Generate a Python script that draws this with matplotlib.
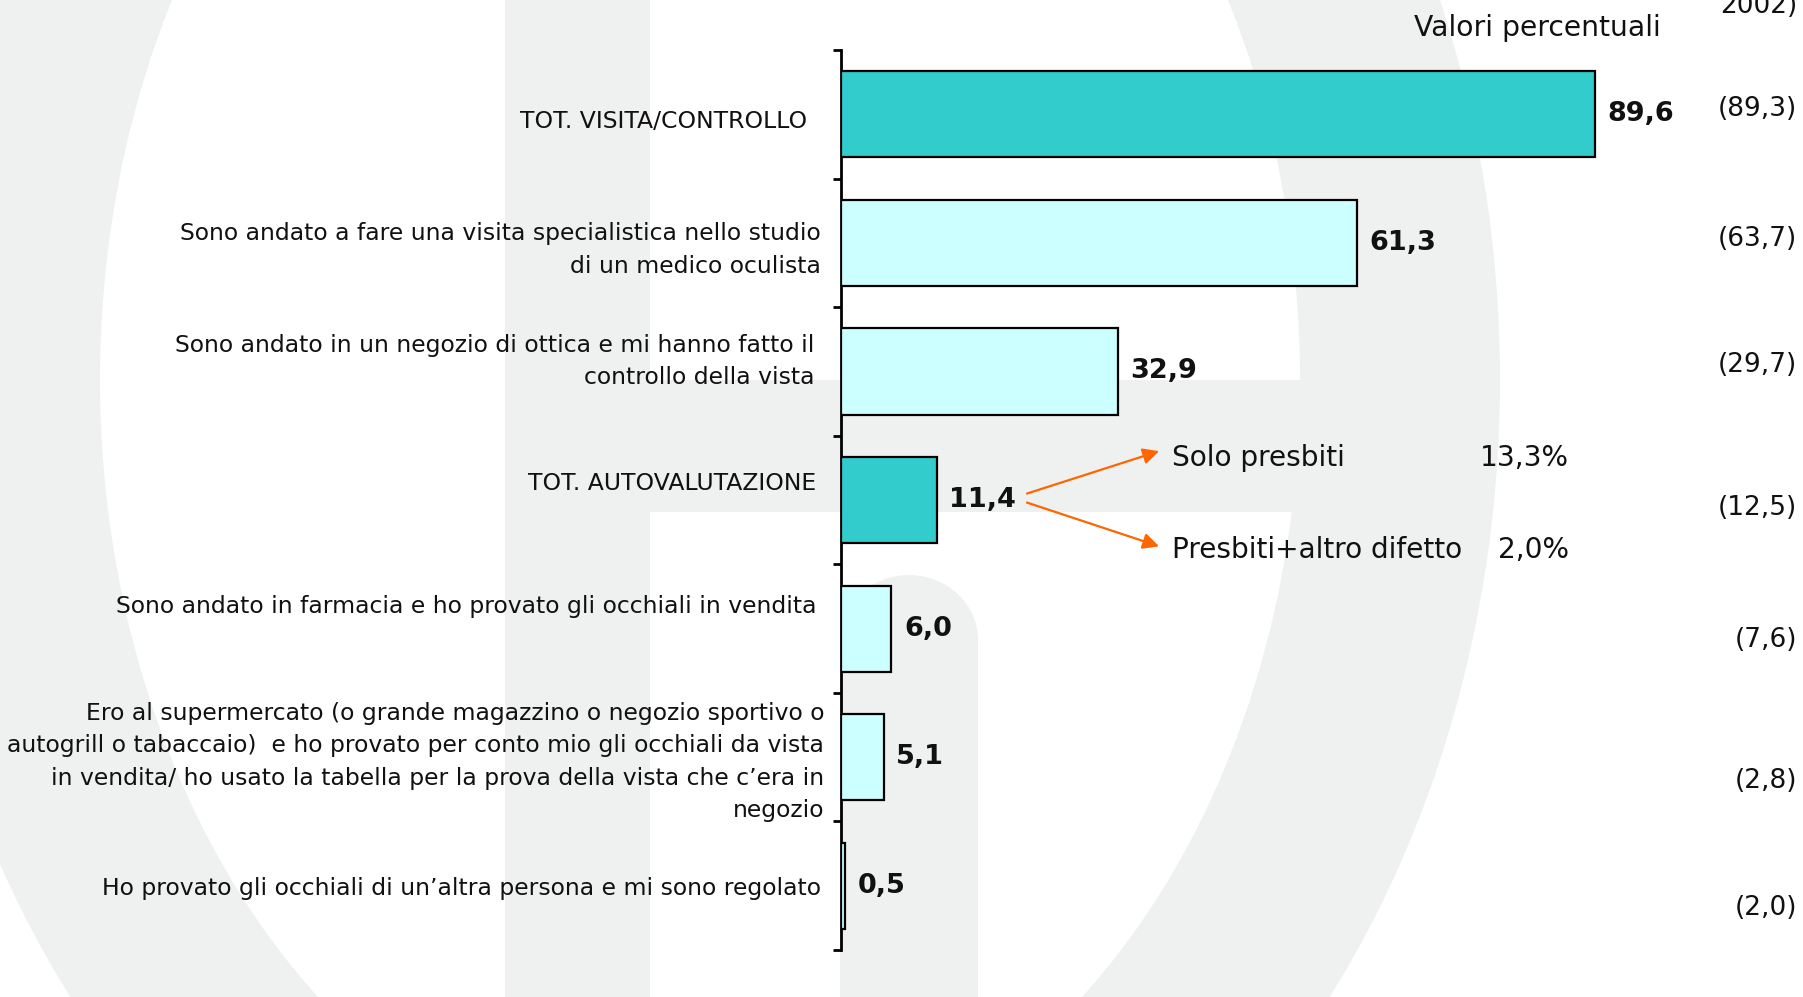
import matplotlib
matplotlib.use('Agg')
import matplotlib.pyplot as plt
from matplotlib.patches import Rectangle, Ellipse
from matplotlib.transforms import blended_transform_factory, offset_copy

# --- DATA ---
categories = [
    'TOT. VISITA/CONTROLLO',
    'Sono andato a fare una visita specialistica nello studio\ndi un medico oculista',
    'Sono andato in un negozio di ottica e mi hanno fatto il\ncontrollo della vista',
    'TOT. AUTOVALUTAZIONE',
    'Sono andato in farmacia e ho provato gli occhiali in vendita',
    'Ero al supermercato (o grande magazzino o negozio sportivo o\n'
    'autogrill o tabaccaio)  e ho provato per conto mio gli occhiali da vista\n'
    'in vendita/ ho usato la tabella per la prova della vista che c’era in\nnegozio',
    'Ho provato gli occhiali di un’altra persona e mi sono regolato',
]
values = [89.6, 61.3, 32.9, 11.4, 6.0, 5.1, 0.5]
values_prev = [89.3, 63.7, 29.7, 12.5, 7.6, 2.8, 2.0]
is_total = [True, False, False, True, False, False, False]
sub_labels = ['Solo presbiti', 'Presbiti+altro difetto']
sub_values = [13.3, 2.0]

# --- STYLE ---
C_TOTAL = '#33CCCC'
C_ITEM = '#CCFFFF'
C_ARROW = '#FF6600'
C_WATERMARK = '#eff0f0'
FONT = 'DejaVu Sans'
TXT = '#111111'

# small nudges (pixels) to mimic the hand placed text boxes of the original slide
LABEL_DY = [7, 7, -10, -17, -22, 5, 3]       # + = down
LABEL_DX = [-14, 0, -7, -5, -5, 3, 0]        # + = right
PREV_DY = [-5, -4, -6, 8, 11, 24, 22]


def fmt(v):
    return f"{v:.1f}".replace('.', ',')


fig = plt.figure(figsize=(18.03, 9.97), dpi=100, facecolor='white')

# --- background watermark (faint logo), in pixel coords ---
bg = fig.add_axes([0, 0, 1, 1], zorder=0)
bg.set_xlim(0, 1803)
bg.set_ylim(997, 0)
bg.axis('off')
bg.add_patch(Ellipse((700, 380), 1600, 2000, color=C_WATERMARK, lw=0))
bg.add_patch(Ellipse((700, 380), 1200, 1600, color='white', lw=0))
bg.add_patch(Rectangle((505, 0), 145, 997, color=C_WATERMARK, lw=0))
bg.add_patch(Rectangle((650, 380), 685, 132, color=C_WATERMARK, lw=0))
bg.add_patch(Rectangle((840, 640), 138, 357, color=C_WATERMARK, lw=0))
bg.add_patch(Ellipse((909, 640), 138, 130, color=C_WATERMARK, lw=0))

# --- main chart ---
ax = fig.add_axes([841 / 1803, 1 - 950 / 997, 1 - 841 / 1803, 900 / 997], zorder=1)
ax.patch.set_alpha(0)

ypos = list(range(len(values)))
colors = [C_TOTAL if t else C_ITEM for t in is_total]
ax.barh(ypos, values, height=0.67, color=colors, edgecolor='black', linewidth=1.6, zorder=3)

ax.set_ylim(len(values) - 0.5, -0.5)
ax.set_xlim(0, (1803 - 841) / 8.415)

for s in ['top', 'right', 'bottom']:
    ax.spines[s].set_visible(False)
ax.spines['left'].set_linewidth(2)
ax.set_xticks([])
ax.set_yticks([])
ax.set_yticks([i - 0.5 for i in range(len(values) + 1)], minor=True)
ax.tick_params(axis='y', which='minor', direction='out', length=6, width=2, labelleft=False)

# category labels
for i, lab in enumerate(categories):
    tr = offset_copy(ax.transData, fig=fig, x=(-20 + LABEL_DX[i]) * 0.72,
                     y=-LABEL_DY[i] * 0.72, units='points')
    ax.text(0, i, lab, transform=tr, ha='right', va='center', fontsize=16.9,
            family=FONT, color=TXT, linespacing=1.53, multialignment='right')

# value labels
for i, v in enumerate(values):
    tr = offset_copy(ax.transData, fig=fig, x=9, y=0, units='points')
    ax.text(v, i, fmt(v), transform=tr, ha='left', va='center', fontsize=19.5,
            fontweight='bold', family=FONT, color=TXT)

# previous-year column
tr_right = blended_transform_factory(fig.transFigure, ax.transData)
for i, v in enumerate(values_prev):
    tr = offset_copy(tr_right, fig=fig, x=0, y=-PREV_DY[i] * 0.72, units='points')
    ax.text(1797 / 1803, i, f"({fmt(v)})", transform=tr, ha='right', va='center',
            fontsize=19, family=FONT, color=TXT)

fig.text(1661 / 1803, 1 - 28 / 997, 'Valori percentuali', ha='right', va='center',
         fontsize=20.3, family=FONT, color=TXT)
fig.text(1797 / 1803, 1 - 13 / 997, '2002)', ha='right', va='baseline',
         fontsize=19, family=FONT, color=TXT)

# breakdown of the self-assessment total
k = is_total.index(True, 1)
x0 = values[k] + 10.7
for j, (lab, sv) in enumerate(zip(sub_labels, sub_values)):
    yt = k + (-0.33 if j == 0 else 0.39)
    ys = k + (-0.05 if j == 0 else 0.02)
    ya = k + (-0.38 if j == 0 else 0.36)
    ax.annotate('', xy=(x0 + 15.7, ya), xytext=(x0, ys),
                arrowprops=dict(arrowstyle='-|>', color=C_ARROW, lw=1.6,
                                mutation_scale=24, shrinkA=0, shrinkB=0))
    ax.text(x0 + 17.2, yt, lab, ha='left', va='center', fontsize=20.2,
            family=FONT, color=TXT)
    ax.text(86.5, yt, f"{fmt(sv)}%", ha='right', va='center', fontsize=20.2,
            family=FONT, color=TXT)

fig.savefig('out.png', dpi=100, facecolor='white')
